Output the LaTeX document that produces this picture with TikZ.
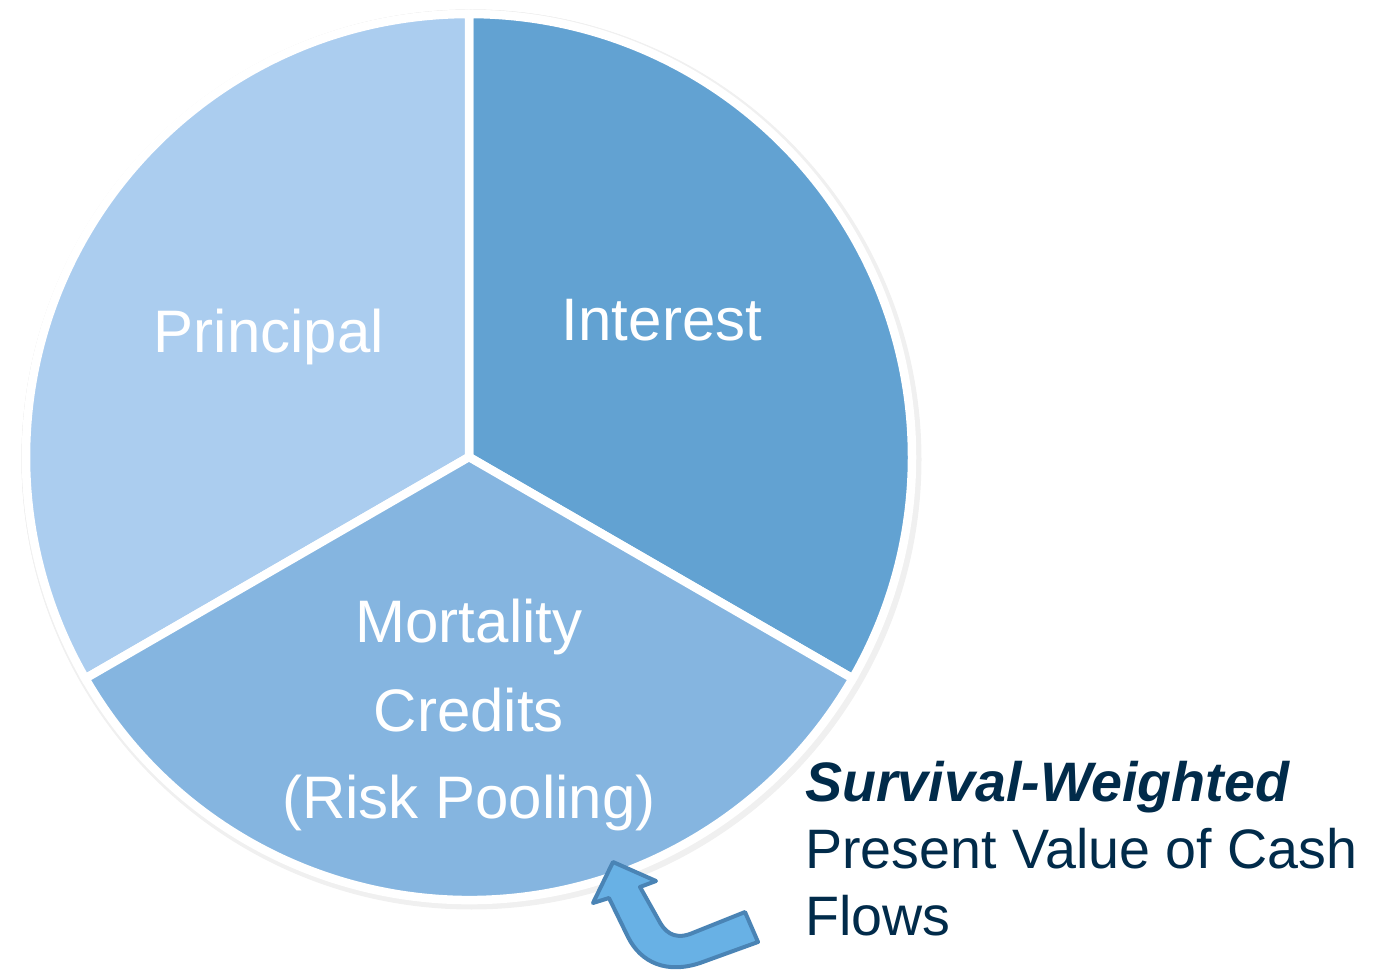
\documentclass[tikz,border=0pt]{standalone}
\usepackage{fontspec}
\setmainfont{Liberation Sans}
\definecolor{principalblue}{HTML}{ABCDEF}
\definecolor{interestblue}{HTML}{62A2D2}
\definecolor{mortalityblue}{HTML}{85B5E0}
\definecolor{arrowfill}{HTML}{68B1E5}
\definecolor{arrowedge}{HTML}{4A84B5}
\definecolor{navytext}{HTML}{012B4A}
\tikzset{
  slice/.style={draw=white, line width=8.5pt, line join=miter},
  slicelabel/.style={text=white, font=\fontsize{60}{88}\selectfont, align=center, inner sep=0pt},
  sidelabel/.style={text=navytext, font=\fontsize{55.6}{67}\selectfont, align=left, inner sep=0pt},
  bentarrow/.style={fill=arrowfill, draw=arrowedge, line width=4pt, line join=round}
}
\begin{document}
\begin{tikzpicture}[x=1pt,y=1pt]
  \useasboundingbox (0,0) rectangle (1374,-973);
  \coordinate (c) at (469,-457);
  % soft shadow around the pie
  \fill[black!12] (c) ++(1.5,-1.5) circle[radius=449];
  \fill[black!6] (c) ++(2.5,-2.5) circle[radius=450];
  % the three slices
  \path[slice, fill=interestblue] (c) -- ++(90:443) arc[start angle=90, end angle=-30, radius=443] -- cycle;
  \path[slice, fill=principalblue] (c) -- ++(90:443) arc[start angle=90, end angle=210, radius=443] -- cycle;
  \path[slice, fill=mortalityblue] (c) -- ++(210:443) arc[start angle=210, end angle=330, radius=443] -- cycle;
  % slice labels
  \node[slicelabel, anchor=base] (principal) at (269,-353) {Principal};
  \node[slicelabel, anchor=base] (interest) at (662,-341) {Interest};
  \node[slicelabel, anchor=base] (mortality) at (469,-642) {Mortality};
  \node[slicelabel, anchor=base] (credits) at (469,-731) {Credits};
  \node[slicelabel, anchor=base] (pooling) at (469,-818) {(Risk Pooling)};
  % side caption
  \node[sidelabel, anchor=base west] (sw) at (805,-801) {\textbf{\textit{Survival-Weighted}}};
  \node[sidelabel, anchor=base west] (pv) at (805,-868) {Present Value of Cash};
  \node[sidelabel, anchor=base west] (flows) at (805,-935) {Flows};
  % bent arrow pointing back at the pie
  \draw[bentarrow] (745,-912) -- (690,-934)
    .. controls (673,-940) and (664,-931) .. (658,-919)
    -- (640,-887) -- (656,-881) -- (613,-862) -- (593,-903) -- (609,-898)
    -- (628,-937) .. controls (641,-963) and (667,-974) .. (700,-963)
    -- (758,-942) -- cycle;
\end{tikzpicture}
\end{document}
